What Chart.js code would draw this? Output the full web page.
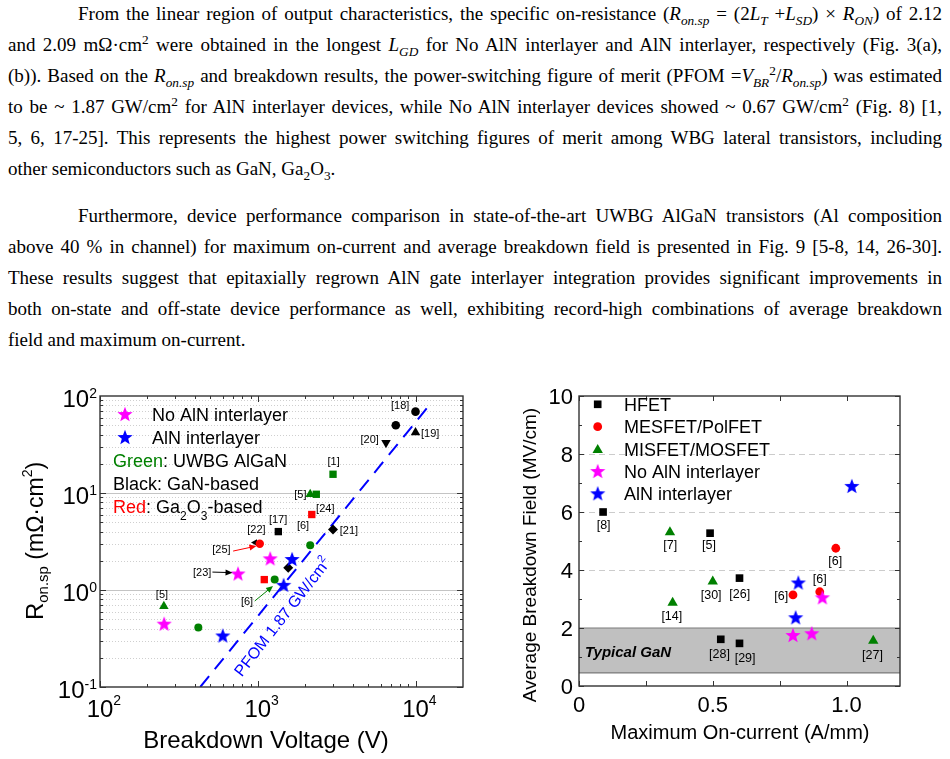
<!DOCTYPE html>
<html>
<head>
<meta charset="utf-8">
<title>Fig. 8 / Fig. 9</title>
<script src="https://cdn.jsdelivr.net/npm/chart.js@4.4.1/dist/chart.umd.min.js"></script>
<style>
  html, body { margin: 0; padding: 0; background: #fff; }
  body { width: 950px; height: 759px; position: relative; overflow: hidden; }
  #txt { position: absolute; left: 8px; top: -2px; width: 934px; color: #000;
         font-family: "Liberation Serif", "Times New Roman", serif; font-size: 19px; }
  .ln { height: 31px; line-height: 31px; text-align: justify; text-align-last: justify; }
  .ln.ind { text-indent: 70px; }
  .ln.end { text-align-last: left; }
  .gap { margin-top: 16px; }
  sub, sup { font-size: 70%; line-height: 0; }
  canvas { position: absolute; top: 380px; }
  #fig8 { left: 0; }
  #fig9 { left: 475px; }
</style>
</head>
<body>
<div id="txt">
  <div class="ln ind">From the linear region of output characteristics, the specific on-resistance (<i>R<sub>on.sp</sub></i> = (2<i>L<sub>T</sub></i> +<i>L<sub>SD</sub></i>) × <i>R<sub>ON</sub></i>) of 2.12</div>
  <div class="ln">and 2.09 mΩ·cm<sup>2</sup> were obtained in the longest <i>L<sub>GD</sub></i> for No AlN interlayer and AlN interlayer, respectively (Fig. 3(a),</div>
  <div class="ln">(b)). Based on the <i>R<sub>on.sp</sub></i> and breakdown results, the power-switching figure of merit (PFOM =<i>V<sub>BR</sub></i><sup>2</sup>/<i>R<sub>on.sp</sub></i>) was estimated</div>
  <div class="ln">to be ~ 1.87 GW/cm<sup>2</sup> for AlN interlayer devices, while No AlN interlayer devices showed ~ 0.67 GW/cm<sup>2</sup> (Fig. 8) [1,</div>
  <div class="ln">5, 6, 17-25]. This represents the highest power switching figures of merit among WBG lateral transistors, including</div>
  <div class="ln end">other semiconductors such as GaN, Ga<sub>2</sub>O<sub>3</sub>.</div>
  <div class="ln ind gap">Furthermore, device performance comparison in state-of-the-art UWBG AlGaN transistors (Al composition</div>
  <div class="ln">above 40 % in channel) for maximum on-current and average breakdown field is presented in Fig. 9 [5-8, 14, 26-30].</div>
  <div class="ln">These results suggest that epitaxially regrown AlN gate interlayer integration provides significant improvements in</div>
  <div class="ln">both on-state and off-state device performance as well, exhibiting record-high combinations of average breakdown</div>
  <div class="ln end">field and maximum on-current.</div>
</div>
<canvas id="fig8" width="475" height="379"></canvas>
<canvas id="fig9" width="475" height="379"></canvas>
<script>
// === Fig. 8 data: specific on-resistance vs breakdown voltage ===
const noAlnV = [255, 750, 1200];
const noAlnR = [0.45, 1.48, 2.12];
const alnV = [600, 1460, 1650];
const alnR = [0.34, 1.13, 2.09];
const algCircV = [420, 1280, 2150];
const algCircR = [0.41, 1.28, 2.9];
const algTriV = [254, 2150];
const algTriR = [0.68, 9.7];
const algSqV = [2350, 3000];
const algSqR = [9.7, 15.6];
const gaoCircV = [1030];
const gaoCircR = [3.0];
const gaoSqV = [1100, 2200];
const gaoSqR = [1.28, 6.0];
const ganSqV = [1350];
const ganSqR = [4.0];
const ganDiaV = [1560, 3000];
const ganDiaR = [1.7, 4.2];
const ganCircV = [7500, 10000];
const ganCircR = [50, 69];
const ganUpV = [10000];
const ganUpR = [42];
const ganDownV = [6500];
const ganDownR = [33];
const ganLeftV = [961];
const ganLeftR = [3.08];
// PFOM = 1.87 GW/cm2 reference line (end points)
const pfomV = [432, 12500];
const pfomR = [0.1, 84];
const pfomLabelV = 1432;
const pfomLabelR = 0.531;
// reference tags
const refs8 = ['[18]', '[19]', '[20]', '[1]', '[5]', '[24]', '[17]', '[6]', '[21]', '[22]', '[25]', '[23]', '[6]', '[5]'];
const refs8V = [8000, 12390, 5120, 3027, 1862, 2680, 1346, 1936, 3786, 981, 589, 444, 855, 247];
const refs8R = [78.9, 40.3, 34.9, 20.9, 9.53, 6.79, 5.23, 4.57, 4.06, 4.15, 2.58, 1.49, 0.752, 0.881];
// arrows from tag to point
const arrFromV = [698, 516, 957];
const arrFromR = [2.52, 1.53, 0.77];
const arrToV = [981, 692, 1250];
const arrToR = [2.84, 1.51, 1.10];
const arrColor = ['#ff0000', '#000000', '#008000'];

// === Fig. 9 data: average breakdown field vs max on-current ===
const hfetI = [0.09, 0.49, 0.60, 0.53, 0.60];
const hfetE = [6.0, 5.27, 3.72, 1.61, 1.47];
const mesI = [0.96, 0.80, 0.90];
const mesE = [4.75, 3.14, 3.25];
const misI = [0.34, 0.50, 0.35, 1.10];
const misE = [5.30, 3.60, 2.87, 1.56];
const noAlnI = [0.80, 0.87, 0.91];
const noAlnE = [1.76, 1.82, 3.06];
const alnI = [1.02, 0.82, 0.81];
const alnE = [6.90, 3.57, 2.37];
const refs9 = ['[8]', '[7]', '[5]', '[6]', '[6]', '[30]', '[26]', '[6]', '[14]', '[28]', '[29]', '[27]'];
const refs9I = [0.092, 0.341, 0.486, 0.958, 0.900, 0.494, 0.601, 0.756, 0.347, 0.525, 0.621, 1.097];
const refs9E = [5.55, 4.84, 4.83, 4.29, 3.68, 3.11, 3.14, 3.08, 2.39, 1.08, 0.95, 1.06];
const ganBandLo = 0.45;
const ganBandHi = 2.0;

// === helpers ===
const SANS = '"Liberation Sans", Arial, sans-serif';
const GREEN = '#008000', RED = '#ff0000', BLUE = '#0000ff', MAG = '#ff00ff';

function pts(xs, ys) {
    return xs.map((x, i) => ({ x: x, y: ys[i] }));
}

function starImg(color, R) {
    const c = document.createElement('canvas');
    c.width = c.height = Math.ceil(2 * R + 2);
    const g = c.getContext('2d');
    const cx = c.width / 2, cy = c.height / 2 + R * 0.1;
    g.fillStyle = color;
    g.beginPath();
    for (let i = 0; i < 10; i++) {
        const a = -Math.PI / 2 + i * Math.PI / 5;
        const rr = i % 2 ? R * 0.42 : R;
        g.lineTo(cx + rr * Math.cos(a), cy + rr * Math.sin(a));
    }
    g.closePath();
    g.fill();
    return c;
}

function ds(label, xs, ys, style, color, radius, rotation) {
    return {
        label: label,
        data: pts(xs, ys),
        pointStyle: style,
        pointRadius: radius,
        pointRotation: rotation || 0,
        backgroundColor: color,
        borderColor: color,
        pointBorderWidth: 0,
        showLine: false
    };
}

// parts: [text, size, dy, color, fontStyle]
function runs(ctx, parts, x, y, align) {
    let w = 0;
    const m = parts.map(p => {
        ctx.font = (p[4] || '') + ' ' + p[1] + 'px ' + SANS;
        const pw = ctx.measureText(p[0]).width;
        w += pw;
        return pw;
    });
    let cx = align === 'center' ? x - w / 2 : align === 'right' ? x - w : x;
    ctx.textAlign = 'left';
    ctx.textBaseline = 'alphabetic';
    parts.forEach((p, i) => {
        ctx.font = (p[4] || '') + ' ' + p[1] + 'px ' + SANS;
        ctx.fillStyle = p[3] || '#000';
        ctx.fillText(p[0], cx, y + (p[2] || 0));
        cx += m[i];
    });
    return w;
}

function marker(ctx, style, color, radius, rotation, x, y) {
    ctx.save();
    ctx.fillStyle = color;
    ctx.strokeStyle = color;
    Chart.helpers.drawPoint(ctx, { pointStyle: style, radius: radius, rotation: rotation || 0, borderWidth: 0 }, x, y);
    ctx.restore();
}

function frame(ctx, a) {
    ctx.save();
    ctx.strokeStyle = '#333';
    ctx.lineWidth = 1.4;
    ctx.strokeRect(a.left, a.top, a.right - a.left, a.bottom - a.top);
    ctx.restore();
}

function tickX(ctx, a, px, len) {
    ctx.beginPath();
    ctx.moveTo(px, a.bottom); ctx.lineTo(px, a.bottom - len);
    ctx.moveTo(px, a.top); ctx.lineTo(px, a.top + len);
    ctx.stroke();
}

function tickY(ctx, a, py, len) {
    ctx.beginPath();
    ctx.moveTo(a.left, py); ctx.lineTo(a.left + len, py);
    ctx.moveTo(a.right, py); ctx.lineTo(a.right - len, py);
    ctx.stroke();
}

function arrow(ctx, x0, y0, x1, y1, color) {
    const ang = Math.atan2(y1 - y0, x1 - x0);
    ctx.save();
    ctx.strokeStyle = color;
    ctx.fillStyle = color;
    ctx.lineWidth = 1;
    ctx.beginPath();
    ctx.moveTo(x0, y0);
    ctx.lineTo(x1 - 5 * Math.cos(ang), y1 - 5 * Math.sin(ang));
    ctx.stroke();
    ctx.translate(x1, y1);
    ctx.rotate(ang);
    ctx.beginPath();
    ctx.moveTo(0, 0); ctx.lineTo(-7, -3); ctx.lineTo(-7, 3);
    ctx.closePath();
    ctx.fill();
    ctx.restore();
}

// === Fig. 8 ===
const star8m = starImg(MAG, 8);
const star8b = starImg(BLUE, 8);

const fig8Deco = {
    id: 'fig8Deco',
    beforeDatasetsDraw(chart) {
        const ctx = chart.ctx, a = chart.chartArea, y = chart.scales.y;
        ctx.save();
        ctx.lineWidth = 1;
        for (let e = -1; e < 2; e++) {
            for (let k = 1; k <= 9; k++) {
                const py = Math.round(y.getPixelForValue(k * Math.pow(10, e))) + 0.5;
                if (py <= a.top + 1 || py >= a.bottom - 1) continue;
                ctx.strokeStyle = k === 1 ? '#c4c4c4' : '#cfcfcf';
                ctx.setLineDash(k === 1 ? [] : [1, 2]);
                ctx.beginPath(); ctx.moveTo(a.left, py); ctx.lineTo(a.right, py); ctx.stroke();
            }
        }
        ctx.restore();
    },
    afterDraw(chart) {
        const ctx = chart.ctx, a = chart.chartArea, x = chart.scales.x, y = chart.scales.y;
        frame(ctx, a);
        ctx.save();
        ctx.strokeStyle = '#333';
        ctx.lineWidth = 1;
        for (let e = 2; e <= 4; e++) {
            for (let k = 1; k <= 9; k++) {
                const v = k * Math.pow(10, e);
                if (v >= 20000) continue;
                tickX(ctx, a, Math.round(x.getPixelForValue(v)) + 0.5, k === 1 ? 6 : 3);
            }
        }
        for (let e = -1; e < 2; e++) {
            for (let k = 1; k <= 9; k++) {
                tickY(ctx, a, Math.round(y.getPixelForValue(k * Math.pow(10, e))) + 0.5, k === 1 ? 6 : 3);
            }
        }
        ctx.restore();

        // tick labels
        for (let e = -1; e <= 2; e++) {
            runs(ctx, [['10', 24], [String(e), 14, -9]], 97, y.getPixelForValue(Math.pow(10, e)) + 10.5, 'right');
        }
        ctx.font = '24px ' + SANS;
        const w10 = ctx.measureText('10').width;
        for (let e = 2; e <= 4; e++) {
            runs(ctx, [['10', 24], [String(e), 14, -12]], x.getPixelForValue(Math.pow(10, e)) - w10 / 2, 337, 'left');
        }

        // axis titles
        runs(ctx, [['Breakdown Voltage (V)', 24]], 266, 368, 'center');
        ctx.save();
        ctx.translate(43, 161);
        ctx.rotate(-Math.PI / 2);
        runs(ctx, [['R', 24], ['on.sp', 15, 5], [' (mΩ·cm', 23], ['2', 14, -11], [')', 23]], 0, 0, 'center');
        ctx.restore();

        // legend
        marker(ctx, star8m, MAG, 8, 0, 125, 34);
        runs(ctx, [['No AlN interlayer', 18]], 152, 40.5, 'left');
        marker(ctx, star8b, BLUE, 8, 0, 125, 57);
        runs(ctx, [['AlN interlayer', 18]], 152, 63.5, 'left');
        runs(ctx, [['Green', 18, 0, GREEN], [': UWBG AlGaN', 18]], 113, 86.5, 'left');
        runs(ctx, [['Black: GaN-based', 18]], 113, 109.5, 'left');
        runs(ctx, [['Red', 18, 0, RED], [': Ga', 18], ['2', 12, 7], ['O', 18], ['3', 12, 7], ['-based', 18]], 113, 132.5, 'left');

        // arrows
        arrFromV.forEach((v, i) => {
            arrow(ctx, x.getPixelForValue(v), y.getPixelForValue(arrFromR[i]),
                x.getPixelForValue(arrToV[i]), y.getPixelForValue(arrToR[i]), arrColor[i]);
        });

        // reference tags
        ctx.font = '11px ' + SANS;
        ctx.fillStyle = '#000';
        ctx.textAlign = 'center';
        ctx.textBaseline = 'middle';
        refs8.forEach((t, i) => {
            ctx.fillText(t, x.getPixelForValue(refs8V[i]), y.getPixelForValue(refs8R[i]));
        });

        // PFOM label along the line
        ctx.save();
        ctx.translate(x.getPixelForValue(pfomLabelV), y.getPixelForValue(pfomLabelR));
        ctx.rotate(-52 * Math.PI / 180);
        runs(ctx, [['PFOM 1.87 GW/cm', 16, 0, BLUE], ['2', 11, -7, BLUE]], 0, 5.5, 'center');
        ctx.restore();
    }
};

new Chart(document.getElementById('fig8'), {
    type: 'scatter',
    data: {
        datasets: [
            ds('No AlN interlayer', noAlnV, noAlnR, star8m, MAG, 8),
            ds('AlN interlayer', alnV, alnR, star8b, BLUE, 8),
            ds('UWBG AlGaN circle', algCircV, algCircR, 'circle', GREEN, 4),
            ds('UWBG AlGaN triangle', algTriV, algTriR, 'triangle', GREEN, 5.5),
            ds('UWBG AlGaN square', algSqV, algSqR, 'rect', GREEN, 5.2),
            ds('Ga2O3 circle', gaoCircV, gaoCircR, 'circle', RED, 4.2),
            ds('Ga2O3 square', gaoSqV, gaoSqR, 'rect', RED, 5.2),
            ds('GaN square', ganSqV, ganSqR, 'rect', '#000', 5.2),
            ds('GaN diamond', ganDiaV, ganDiaR, 'rectRot', '#000', 5),
            ds('GaN circle', ganCircV, ganCircR, 'circle', '#000', 4.3),
            ds('GaN triangle up', ganUpV, ganUpR, 'triangle', '#000', 5.5),
            ds('GaN triangle down', ganDownV, ganDownR, 'triangle', '#000', 5.5, 180),
            ds('GaN triangle left', ganLeftV, ganLeftR, 'triangle', '#000', 4, -90),
            {
                label: 'PFOM 1.87 GW/cm2',
                data: pts(pfomV, pfomR),
                showLine: true,
                borderColor: BLUE,
                borderWidth: 2,
                borderDash: [14, 9],
                pointRadius: 0,
                fill: false
            }
        ]
    },
    options: {
        responsive: false,
        animation: false,
        devicePixelRatio: 1,
        events: [],
        layout: { padding: { left: 100, right: 12, top: 16, bottom: 72 } },
        plugins: { legend: { display: false }, tooltip: { enabled: false } },
        scales: {
            x: { type: 'logarithmic', min: 100, max: 20000, display: false },
            y: { type: 'logarithmic', min: 0.1, max: 100, display: false }
        }
    },
    plugins: [fig8Deco]
});

// === Fig. 9 ===
const star9m = starImg(MAG, 8);
const star9b = starImg(BLUE, 8);

const fig9Deco = {
    id: 'fig9Deco',
    beforeDatasetsDraw(chart) {
        const ctx = chart.ctx, a = chart.chartArea, y = chart.scales.y;
        ctx.save();
        ctx.strokeStyle = '#cccccc';
        ctx.lineWidth = 1;
        ctx.setLineDash([6, 4]);
        for (let v = 2; v <= 8; v += 2) {
            const py = Math.round(y.getPixelForValue(v)) + 0.5;
            ctx.beginPath(); ctx.moveTo(a.left, py); ctx.lineTo(a.right, py); ctx.stroke();
        }
        ctx.setLineDash([]);
        const top = y.getPixelForValue(ganBandHi), bot = y.getPixelForValue(ganBandLo);
        ctx.fillStyle = '#c0c0c0';
        ctx.fillRect(a.left, top, a.right - a.left, bot - top);
        ctx.strokeStyle = '#7a7a7a';
        ctx.lineWidth = 1.2;
        ctx.beginPath();
        ctx.moveTo(a.left, top); ctx.lineTo(a.right, top);
        ctx.moveTo(a.left, bot); ctx.lineTo(a.right, bot);
        ctx.stroke();
        ctx.restore();
    },
    afterDraw(chart) {
        const ctx = chart.ctx, a = chart.chartArea, x = chart.scales.x, y = chart.scales.y;
        frame(ctx, a);
        ctx.save();
        ctx.strokeStyle = '#333';
        ctx.lineWidth = 1;
        for (let v = 0; v <= 10; v++) tickY(ctx, a, Math.round(y.getPixelForValue(v)) + 0.5, v % 2 ? 3 : 5);
        for (let v = 0; v <= 1.2; v += 0.25) tickX(ctx, a, Math.round(x.getPixelForValue(v)) + 0.5, 5);
        ctx.restore();

        for (let v = 0; v <= 10; v += 2) runs(ctx, [[String(v), 22]], 98, y.getPixelForValue(v) + 8, 'right');
        [['0', 0], ['0.5', 0.5], ['1.0', 1.0]].forEach(t => runs(ctx, [[t[0], 22]], x.getPixelForValue(t[1]), 331.5, 'center'));

        runs(ctx, [['Maximum On-current (A/mm)', 20]], 265, 359, 'center');
        ctx.save();
        ctx.translate(61, 175);
        ctx.rotate(-Math.PI / 2);
        runs(ctx, [['Average Breakdown Field (MV/cm)', 19]], 0, 0, 'center');
        ctx.restore();

        // legend
        const lx = 122.7, tx = 149;
        const rows = [
            ['HFET', 'rect', '#000', 5.4, null],
            ['MESFET/PolFET', 'circle', RED, 4.4, null],
            ['MISFET/MOSFET', 'triangle', GREEN, 6, null],
            ['No AlN interlayer', star9m, MAG, 8, null],
            ['AlN interlayer', star9b, BLUE, 8, null]
        ];
        const rowY = [24.3, 46.7, 69, 91, 113.3];
        rows.forEach((r, i) => {
            marker(ctx, r[1], r[2], r[3], 0, lx, rowY[i] + (r[1] === 'triangle' ? 1 : 0));
            runs(ctx, [[r[0], 18]], tx, rowY[i] + 6.5, 'left');
        });

        // labels
        runs(ctx, [['Typical GaN', 15, 0, '#000', 'italic bold']], 110, 277, 'left');
        ctx.font = '12.5px ' + SANS;
        ctx.fillStyle = '#000';
        ctx.textAlign = 'center';
        ctx.textBaseline = 'middle';
        refs9.forEach((t, i) => {
            ctx.fillText(t, x.getPixelForValue(refs9I[i]), y.getPixelForValue(refs9E[i]));
        });
    }
};

new Chart(document.getElementById('fig9'), {
    type: 'scatter',
    data: {
        datasets: [
            ds('No AlN interlayer', noAlnI, noAlnE, star9m, MAG, 8),
            ds('AlN interlayer', alnI, alnE, star9b, BLUE, 8),
            ds('MESFET/PolFET', mesI, mesE, 'circle', RED, 4.4),
            ds('MISFET/MOSFET', misI, misE, 'triangle', GREEN, 6),
            ds('HFET', hfetI, hfetE, 'rect', '#000', 5.4)
        ]
    },
    options: {
        responsive: false,
        animation: false,
        devicePixelRatio: 1,
        events: [],
        layout: { padding: { left: 104, right: 50, top: 16, bottom: 73 } },
        plugins: { legend: { display: false }, tooltip: { enabled: false } },
        scales: {
            x: { type: 'linear', min: 0, max: 1.2, display: false },
            y: { type: 'linear', min: 0, max: 10, display: false }
        }
    },
    plugins: [fig9Deco]
});

// keep each text line on one row
document.querySelectorAll('#txt .ln').forEach(el => {
    let ls = 0;
    while (el.scrollHeight > 40 && ls > -2) {
        ls -= 0.1;
        el.style.letterSpacing = ls + 'px';
    }
});
</script>
</body>
</html>
